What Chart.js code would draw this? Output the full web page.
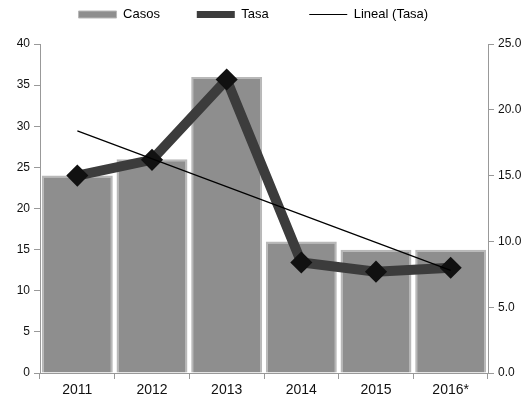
<!DOCTYPE html>
<html>
<head>
<meta charset="utf-8">
<script src="https://cdn.jsdelivr.net/npm/chart.js@4"></script>
<style>
  html, body { margin: 0; padding: 0; background: #fff; }
  #wrap { width: 532px; height: 408px; }
</style>
</head>
<body>
<div id="wrap"><canvas id="myChart"></canvas></div>
<script>
const years = ['2011', '2012', '2013', '2014', '2015', '2016*'];
const casos = [24, 26, 36, 16, 15, 15];
const tasa = [15.0, 16.2, 22.3, 8.4, 7.7, 8.0];
// tendencia lineal: solo los dos extremos
const lineal = [18.4, null, null, null, null, 7.8];

const ctx = document.querySelector('#myChart');

// deja mas espacio bajo la leyenda
const legendGap = {
    id: 'legendGap',
    beforeLayout(chart) {
        const lg = chart.legend;
        if (lg && !lg._gap) {
            const fit = lg.fit;
            lg.fit = function () {
                fit.call(this);
                this.height += 13;
            };
            lg._gap = true;
        }
    }
};

new Chart(ctx, {
    data: {
        labels: years,
        datasets: [{
            type: 'bar',
            label: 'Casos',
            data: casos,
            yAxisID: 'y',
            backgroundColor: '#8e8e8e',
            borderColor: '#b8b8b8',
            borderWidth: 2,
            barPercentage: 0.95,
            categoryPercentage: 1,
            order: 3
        }, {
            type: 'line',
            label: 'Tasa',
            data: tasa,
            yAxisID: 'y1',
            borderColor: '#3c3c3c',
            borderWidth: 10,
            pointStyle: 'rectRot',
            pointRadius: 4,
            pointBackgroundColor: '#111',
            pointBorderColor: '#111',
            order: 2
        }, {
            type: 'line',
            label: 'Lineal (Tasa)',
            data: lineal,
            yAxisID: 'y1',
            borderColor: '#000',
            borderWidth: 1.2,
            pointRadius: 0,
            spanGaps: true,
            order: 1
        }]
    },
    options: {
        responsive: true,
        maintainAspectRatio: false,
        animation: false,
        layout: { padding: 0 },
        plugins: {
            tooltip: { enabled: false },
            legend: {
                position: 'top',
                labels: {
                    usePointStyle: true,
                    pointStyleWidth: 38,
                    boxHeight: 7,
                    padding: 8,
                    color: '#222',
                    font: { family: 'Liberation Sans', size: 13 },
                    generateLabels: () => [
                        { text: 'Casos        ', fillStyle: '#8e8e8e', strokeStyle: '#b8b8b8', lineWidth: 1, pointStyle: 'rect', datasetIndex: 0 },
                        { text: 'Tasa         ', fillStyle: '#3c3c3c', strokeStyle: '#3c3c3c', lineWidth: 7, pointStyle: 'line', datasetIndex: 1 },
                        { text: 'Lineal (Tasa)       ', fillStyle: '#000', strokeStyle: '#000', lineWidth: 1, pointStyle: 'line', datasetIndex: 2 }
                    ]
                }
            }
        },
        scales: {
            x: {
                grid: { drawOnChartArea: false, offset: true, tickLength: 6, color: '#999' },
                border: { color: '#999' },
                ticks: { color: '#111', font: { family: 'Liberation Sans', size: 14 } },
                afterFit: (s) => { s.height = 35; }
            },
            y: {
                position: 'left',
                min: 0,
                max: 40,
                ticks: { stepSize: 5, color: '#111', padding: 4, font: { family: 'Liberation Sans', size: 12 } },
                grid: { drawOnChartArea: false, tickLength: 6, color: '#999' },
                border: { color: '#999' },
                afterFit: (s) => { s.width = 40; }
            },
            y1: {
                position: 'right',
                min: 0,
                max: 25,
                ticks: {
                    stepSize: 5,
                    color: '#111',
                    padding: 4,
                    font: { family: 'Liberation Sans', size: 12 },
                    callback: (v) => v.toFixed(1)
                },
                grid: { drawOnChartArea: false, tickLength: 6, color: '#999' },
                border: { color: '#999' },
                afterFit: (s) => { s.width = 44; }
            }
        }
    },
    plugins: [legendGap]
});
</script>
</body>
</html>
